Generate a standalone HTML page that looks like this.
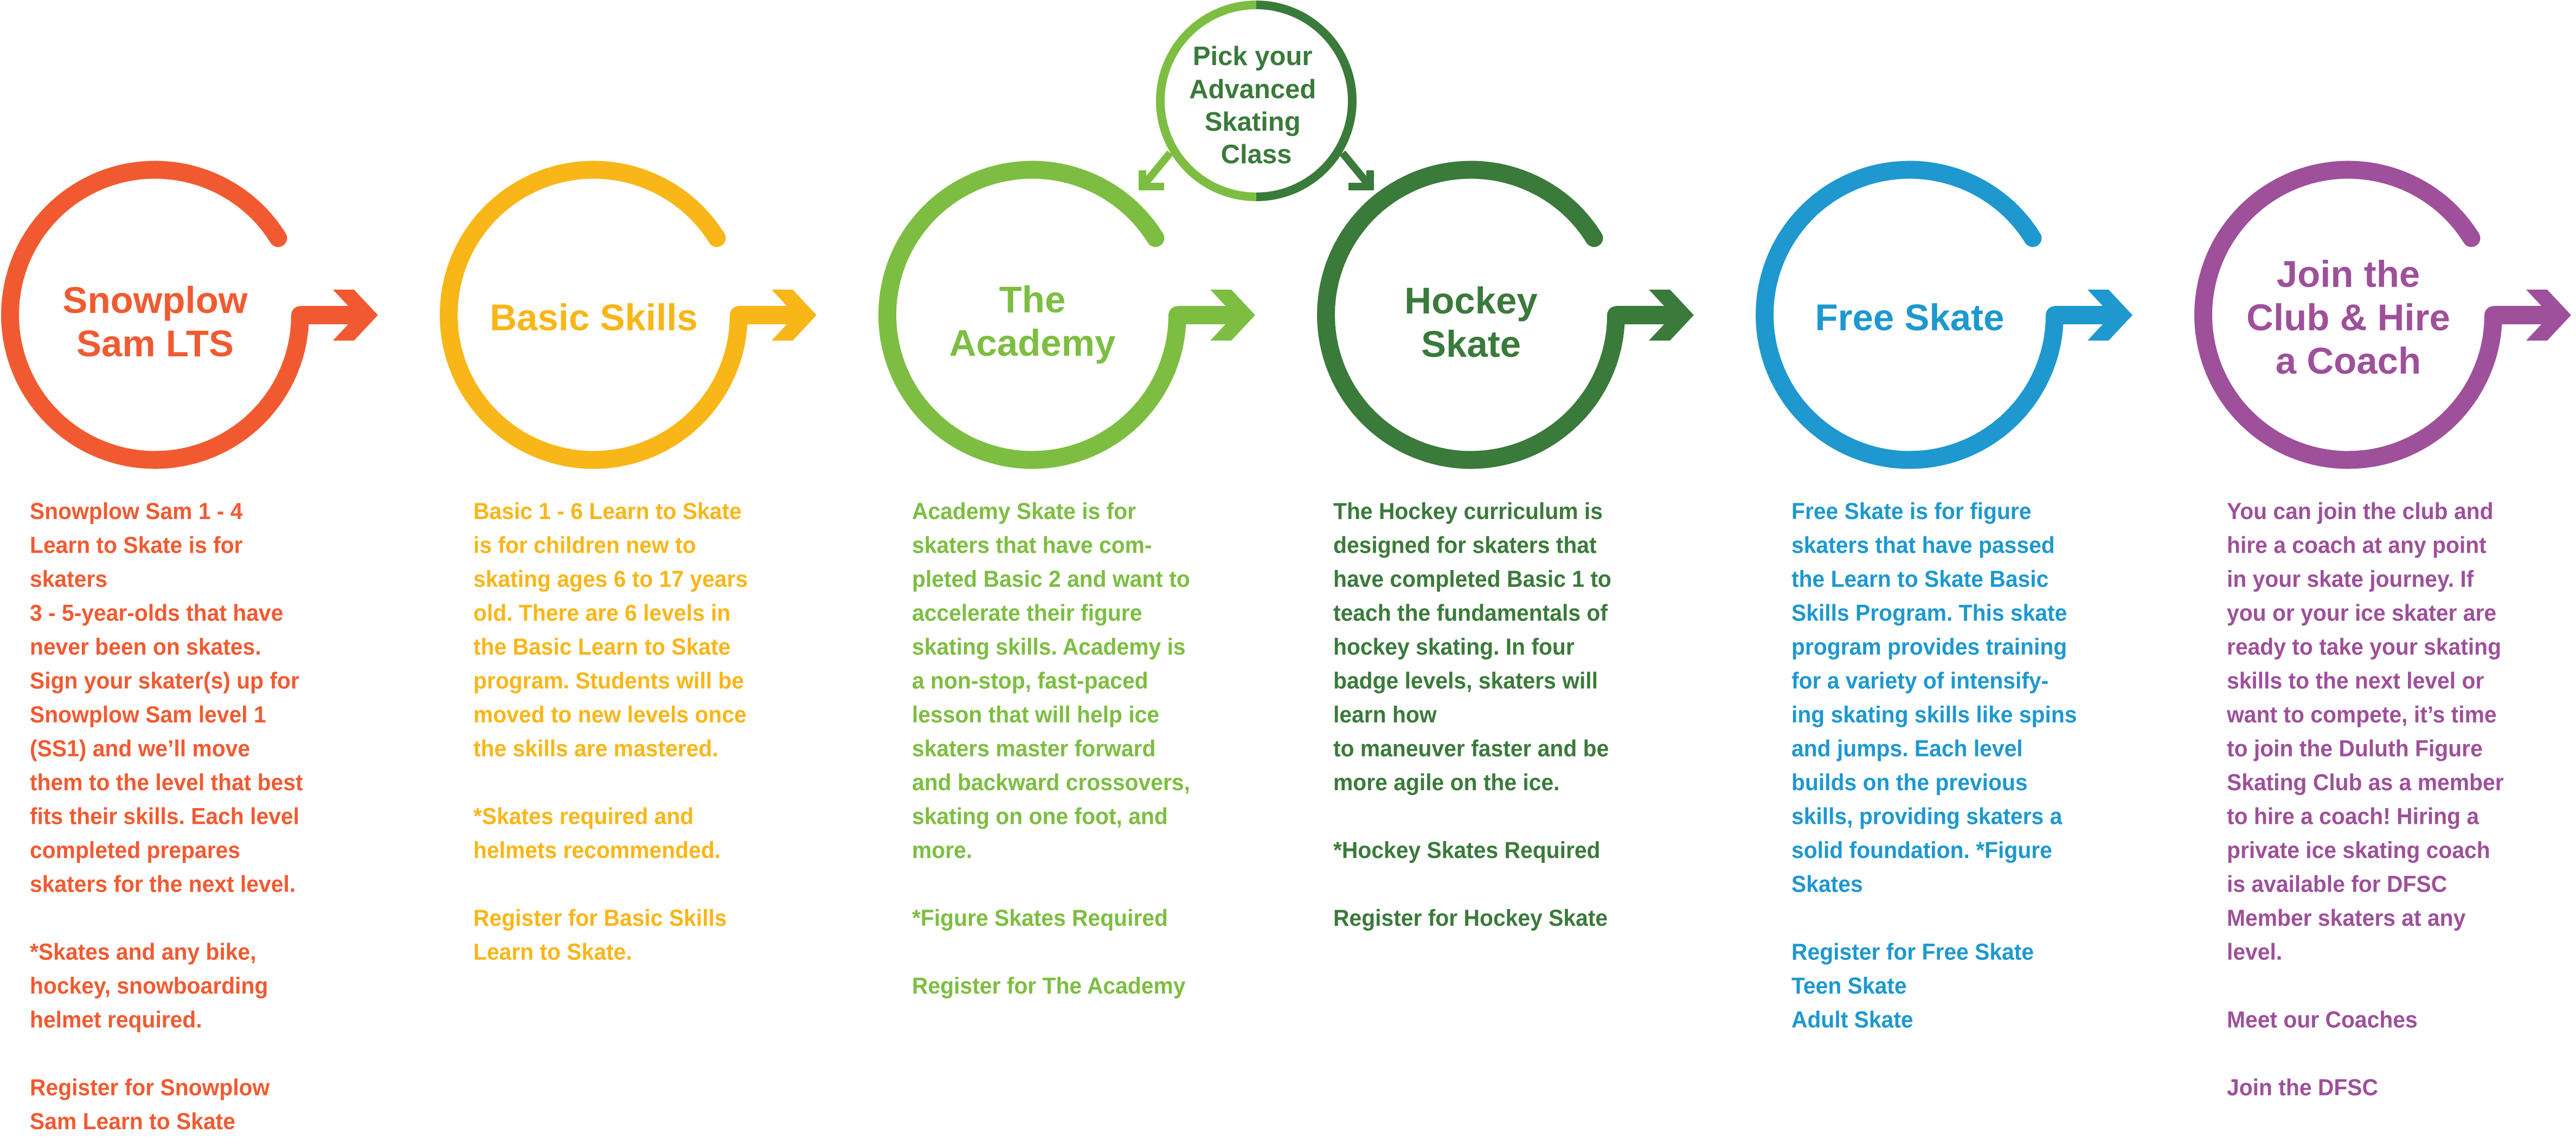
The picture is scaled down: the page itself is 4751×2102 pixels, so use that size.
<!DOCTYPE html>
<html><head><meta charset="utf-8"><style>
html,body{margin:0;padding:0;background:#fff;}
svg{display:block}
text{font-family:"Liberation Sans",Arial,sans-serif;font-weight:bold;}
.b{font-size:43px;}
.h{font-size:69px;}
</style></head><body>
<svg width="4751" height="2102" viewBox="0 0 4751 2102" xmlns="http://www.w3.org/2000/svg">
<defs>
<g id="ring">
<path d="M227,-142 A267.5,267.5 0 1 0 267.5,0" fill="none" stroke-width="33" stroke-linecap="round"/>
<path d="M267.5,0 L360,0" fill="none" stroke-width="34" stroke-linejoin="round"/>
<polygon points="328,-47 367,-47 411,0 367,47 328,47 356,17 356,-17" stroke="none"/>
</g>
</defs>
<g transform="translate(286,581)" stroke="#F15A31" fill="#F15A31"><use href="#ring"/></g>
<g transform="translate(1095,581)" stroke="#F9B618" fill="#F9B618"><use href="#ring"/></g>
<g transform="translate(1904,581)" stroke="#7DBE42" fill="#7DBE42"><use href="#ring"/></g>
<g transform="translate(2713,581)" stroke="#3A7A3A" fill="#3A7A3A"><use href="#ring"/></g>
<g transform="translate(3522,581)" stroke="#1E98CF" fill="#1E98CF"><use href="#ring"/></g>
<g transform="translate(4331,581)" stroke="#9E509A" fill="#9E509A"><use href="#ring"/></g>

<path d="M2317,9 A177,177 0 0 0 2317,363" fill="none" stroke="#7DBE42" stroke-width="16"/>
<path d="M2317,9 A177,177 0 0 1 2317,363" fill="none" stroke="#3A7A3A" stroke-width="16"/>
<line x1="2158" y1="282" x2="2112" y2="338" stroke="#7DBE42" stroke-width="14"/>
<polyline points="2107,314 2107,344 2147,344" fill="none" stroke="#7DBE42" stroke-width="14"/>
<line x1="2476" y1="282" x2="2522" y2="338" stroke="#3A7A3A" stroke-width="14"/>
<polyline points="2527,314 2527,344 2487,344" fill="none" stroke="#3A7A3A" stroke-width="14"/>
<text fill="#3A7A3A" font-size="49" text-anchor="middle">
<tspan x="2317" y="120">Pick your</tspan>
<tspan x="2317" y="181">Advanced</tspan>
<tspan x="2317" y="241">Skating</tspan>
<tspan x="2317" y="301">Class</tspan>
</text>

<text class="h" fill="#F15A31" text-anchor="middle"><tspan x="286" y="577">Snowplow</tspan><tspan x="286" y="657">Sam LTS</tspan></text>
<text class="h" fill="#F9B618" text-anchor="middle"><tspan x="1095" y="609">Basic Skills</tspan></text>
<text class="h" fill="#7DBE42" text-anchor="middle"><tspan x="1904" y="576">The</tspan><tspan x="1904" y="656">Academy</tspan></text>
<text class="h" fill="#3A7A3A" text-anchor="middle"><tspan x="2713" y="578">Hockey</tspan><tspan x="2713" y="658">Skate</tspan></text>
<text class="h" fill="#1E98CF" text-anchor="middle"><tspan x="3522" y="609">Free Skate</tspan></text>
<text class="h" fill="#9E509A" text-anchor="middle"><tspan x="4331" y="529">Join the</tspan><tspan x="4331" y="609">Club &amp; Hire</tspan><tspan x="4331" y="689">a Coach</tspan></text>

<g transform="translate(55,957) scale(0.95,1)">
<text class="b" fill="#F15A31">
<tspan x="0" y="0">Snowplow Sam 1 - 4</tspan>
<tspan x="0" dy="62.5">Learn to Skate is for</tspan>
<tspan x="0" dy="62.5">skaters</tspan>
<tspan x="0" dy="62.5">3 - 5-year-olds that have</tspan>
<tspan x="0" dy="62.5">never been on skates.</tspan>
<tspan x="0" dy="62.5">Sign your skater(s) up for</tspan>
<tspan x="0" dy="62.5">Snowplow Sam level 1</tspan>
<tspan x="0" dy="62.5">(SS1) and we’ll move</tspan>
<tspan x="0" dy="62.5">them to the level that best</tspan>
<tspan x="0" dy="62.5">fits their skills. Each level</tspan>
<tspan x="0" dy="62.5">completed prepares</tspan>
<tspan x="0" dy="62.5">skaters for the next level.</tspan>
<tspan x="0" dy="125">*Skates and any bike,</tspan>
<tspan x="0" dy="62.5">hockey, snowboarding</tspan>
<tspan x="0" dy="62.5">helmet required.</tspan>
<tspan x="0" dy="125">Register for Snowplow</tspan>
<tspan x="0" dy="62.5">Sam Learn to Skate</tspan>
</text></g>

<g transform="translate(873,957) scale(0.95,1)">
<text class="b" fill="#F9B618">
<tspan x="0" y="0">Basic 1 - 6 Learn to Skate</tspan>
<tspan x="0" dy="62.5">is for children new to</tspan>
<tspan x="0" dy="62.5">skating ages 6 to 17 years</tspan>
<tspan x="0" dy="62.5">old. There are 6 levels in</tspan>
<tspan x="0" dy="62.5">the Basic Learn to Skate</tspan>
<tspan x="0" dy="62.5">program. Students will be</tspan>
<tspan x="0" dy="62.5">moved to new levels once</tspan>
<tspan x="0" dy="62.5">the skills are mastered.</tspan>
<tspan x="0" dy="125">*Skates required and</tspan>
<tspan x="0" dy="62.5">helmets recommended.</tspan>
<tspan x="0" dy="125">Register for Basic Skills</tspan>
<tspan x="0" dy="62.5">Learn to Skate.</tspan>
</text></g>

<g transform="translate(1682,957) scale(0.95,1)">
<text class="b" fill="#7DBE42">
<tspan x="0" y="0">Academy Skate is for</tspan>
<tspan x="0" dy="62.5">skaters that have com-</tspan>
<tspan x="0" dy="62.5">pleted Basic 2 and want to</tspan>
<tspan x="0" dy="62.5">accelerate their figure</tspan>
<tspan x="0" dy="62.5">skating skills. Academy is</tspan>
<tspan x="0" dy="62.5">a non-stop, fast-paced</tspan>
<tspan x="0" dy="62.5">lesson that will help ice</tspan>
<tspan x="0" dy="62.5">skaters master forward</tspan>
<tspan x="0" dy="62.5">and backward crossovers,</tspan>
<tspan x="0" dy="62.5">skating on one foot, and</tspan>
<tspan x="0" dy="62.5">more.</tspan>
<tspan x="0" dy="125">*Figure Skates Required</tspan>
<tspan x="0" dy="125">Register for The Academy</tspan>
</text></g>

<g transform="translate(2459,957) scale(0.95,1)">
<text class="b" fill="#3A7A3A">
<tspan x="0" y="0">The Hockey curriculum is</tspan>
<tspan x="0" dy="62.5">designed for skaters that</tspan>
<tspan x="0" dy="62.5">have completed Basic 1 to</tspan>
<tspan x="0" dy="62.5">teach the fundamentals of</tspan>
<tspan x="0" dy="62.5">hockey skating. In four</tspan>
<tspan x="0" dy="62.5">badge levels, skaters will</tspan>
<tspan x="0" dy="62.5">learn how</tspan>
<tspan x="0" dy="62.5">to maneuver faster and be</tspan>
<tspan x="0" dy="62.5">more agile on the ice.</tspan>
<tspan x="0" dy="125">*Hockey Skates Required</tspan>
<tspan x="0" dy="125">Register for Hockey Skate</tspan>
</text></g>

<g transform="translate(3304,957) scale(0.95,1)">
<text class="b" fill="#1E98CF">
<tspan x="0" y="0">Free Skate is for figure</tspan>
<tspan x="0" dy="62.5">skaters that have passed</tspan>
<tspan x="0" dy="62.5">the Learn to Skate Basic</tspan>
<tspan x="0" dy="62.5">Skills Program. This skate</tspan>
<tspan x="0" dy="62.5">program provides training</tspan>
<tspan x="0" dy="62.5">for a variety of intensify-</tspan>
<tspan x="0" dy="62.5">ing skating skills like spins</tspan>
<tspan x="0" dy="62.5">and jumps. Each level</tspan>
<tspan x="0" dy="62.5">builds on the previous</tspan>
<tspan x="0" dy="62.5">skills, providing skaters a</tspan>
<tspan x="0" dy="62.5">solid foundation. *Figure</tspan>
<tspan x="0" dy="62.5">Skates</tspan>
<tspan x="0" dy="125">Register for Free Skate</tspan>
<tspan x="0" dy="62.5">Teen Skate</tspan>
<tspan x="0" dy="62.5">Adult Skate</tspan>
</text></g>

<g transform="translate(4107,957) scale(0.95,1)">
<text class="b" fill="#9E509A">
<tspan x="0" y="0">You can join the club and</tspan>
<tspan x="0" dy="62.5">hire a coach at any point</tspan>
<tspan x="0" dy="62.5">in your skate journey. If</tspan>
<tspan x="0" dy="62.5">you or your ice skater are</tspan>
<tspan x="0" dy="62.5">ready to take your skating</tspan>
<tspan x="0" dy="62.5">skills to the next level or</tspan>
<tspan x="0" dy="62.5">want to compete, it’s time</tspan>
<tspan x="0" dy="62.5">to join the Duluth Figure</tspan>
<tspan x="0" dy="62.5">Skating Club as a member</tspan>
<tspan x="0" dy="62.5">to hire a coach! Hiring a</tspan>
<tspan x="0" dy="62.5">private ice skating coach</tspan>
<tspan x="0" dy="62.5">is available for DFSC</tspan>
<tspan x="0" dy="62.5">Member skaters at any</tspan>
<tspan x="0" dy="62.5">level.</tspan>
<tspan x="0" dy="125">Meet our Coaches</tspan>
<tspan x="0" dy="125">Join the DFSC</tspan>
</text></g>
</svg>
</body></html>
